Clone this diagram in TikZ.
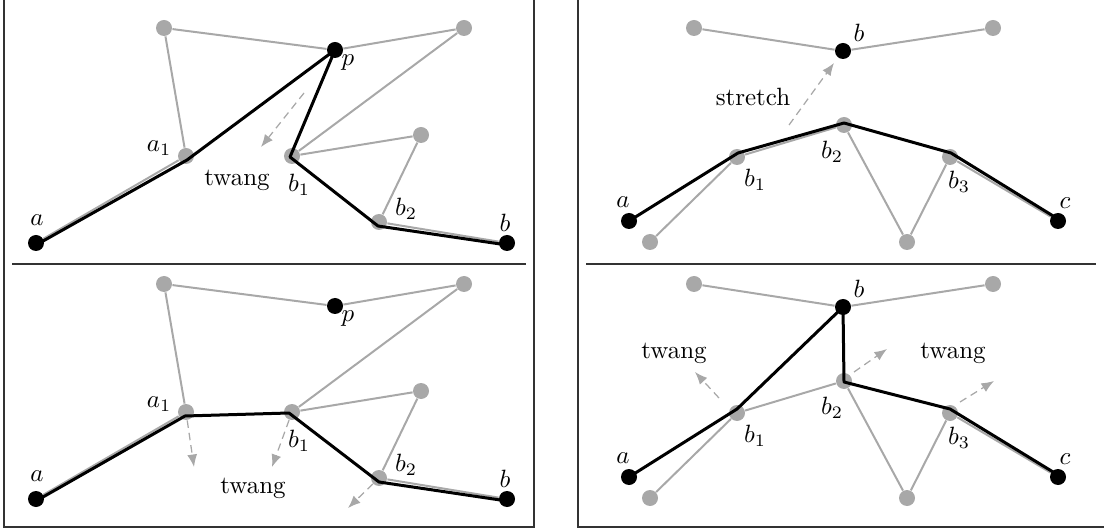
\documentclass[tikz,border=0pt]{standalone}
\usepackage{xcolor}
\usepackage{tikz}
\usetikzlibrary{arrows.meta}
\definecolor{dotgray}{HTML}{A8A8A8}
\definecolor{framegray}{HTML}{333333}
\tikzset{
  gdot/.style={circle, fill=dotgray, inner sep=0pt, minimum size=6.4pt},
  bdot/.style={circle, fill=black, inner sep=0pt, minimum size=6.4pt},
  gedge/.style={draw=dotgray, line width=0.8pt},
  taut/.style={draw=black, line width=1.2pt, line join=round},
  pull/.style={draw=dotgray, line width=0.5pt, dash pattern=on 3pt off 2pt,
               -{Latex[length=5pt, width=4pt]}},
  lbl/.style={inner sep=0pt},
}
% gray graph with the three pins, left side
\newcommand\leftgraph{%
  \node[bdot] (a) at (36,243) {};
  \node[gdot] (a1) at (186,156) {};
  \node[gdot] (nw) at (164,28) {};
  \node[bdot] (p) at (335,50) {};
  \node[gdot] (ne) at (464,28) {};
  \node[gdot] (b1) at (292,156) {};
  \node[gdot] (e) at (421,135) {};
  \node[gdot] (b2) at (379,222) {};
  \node[bdot] (b) at (507,243) {};
  \draw[gedge] (a) -- (a1) -- (nw) -- (p) -- (ne) -- (b1) -- (e) -- (b2) -- (b);
  \node[lbl] (la) at (37,220) {$a$};
  \node[lbl] (la1) at (159,148) {$a_1$};
  \node[lbl] (lb1) at (299,185) {$b_1$};
  \node[lbl] (lp) at (348,63) {$p$};
  \node[lbl] (lb2) at (406,209) {$b_2$};
  \node[lbl] (lb) at (505,223) {$b$};
}
% gray graph, right side
\newcommand\rightgraph{%
  \node[bdot] (a) at (629,221) {};
  \node[gdot] (nw) at (694,28) {};
  \node[bdot] (b) at (843,51) {};
  \node[gdot] (ne) at (993,28) {};
  \node[gdot] (b1) at (737,157) {};
  \node[gdot] (b2) at (844,125) {};
  \node[gdot] (b3) at (950,157) {};
  \node[bdot] (c) at (1058,221) {};
  \node[gdot] (sw) at (650,242) {};
  \node[gdot] (s) at (907,242) {};
  \draw[gedge] (nw) -- (b) -- (ne);
  \draw[gedge] (sw) -- (b1) -- (b2) -- (s) -- (b3) -- (c);
  \node[lbl] (lb) at (859,33) {$b$};
  \node[lbl] (lb1) at (755,180) {$b_1$};
  \node[lbl] (lb2) at (832,152) {$b_2$};
  \node[lbl] (lb3) at (959,182) {$b_3$};
  \node[lbl] (la) at (623,202) {$a$};
  \node[lbl] (lc) at (1065,203) {$c$};
}

\begin{document}
\begin{tikzpicture}[x=0.4pt, y=-0.4pt]
  \useasboundingbox (0,0) rectangle (1104,531);

  % frames
  \draw[framegray, line width=0.5pt] (4,0) -- (4,527) -- (534,527) -- (534,0);
  \draw[framegray, line width=0.5pt] (578,0) -- (578,527) -- (1104,527);
  \draw[framegray, line width=0.5pt] (12,264) -- (526,264);
  \draw[framegray, line width=0.5pt] (586,264) -- (1096,264);

  % left, top
  \begin{scope}[name prefix=lt-]
    \leftgraph
    \draw[taut] ([shift={(0,2)}]a.center) -- ([shift={(1,4)}]a1.center) -- (p.center)
      -- ([shift={(-2,1)}]b1.center) -- ([shift={(-1,4)}]b2.center) -- ([shift={(0,2)}]b.center);
    \coordinate (t1) at (304,93);
    \coordinate (t2) at (261,147);
    \draw[pull] (t1) -- (t2);
    \node (tw) at (237,180) {twang};
  \end{scope}

  % left, bottom
  \begin{scope}[shift={(0,256)}, name prefix=lb-]
    \leftgraph
    \draw[taut] ([shift={(0,2)}]a.center) -- ([shift={(-1,4)}]a1.center)
      -- ([shift={(-3,1)}]b1.center) -- ([shift={(0,4)}]b2.center) -- ([shift={(0,2)}]b.center);
    \coordinate (t1) at (194,211);
    \coordinate (t2) at (272,211);
    \coordinate (t3) at (348,252);
    \draw[pull] (a1) -- (t1);
    \draw[pull] (b1) -- (t2);
    \draw[pull] (b2) -- (t3);
    \node (tw) at (253,232) {twang};
  \end{scope}

  % right, top
  \begin{scope}[name prefix=rt-]
    \rightgraph
    \draw[taut] (a.center) -- ([shift={(1,-4)}]b1.center) -- ([shift={(0,-2)}]b2.center)
      -- ([shift={(1,-4)}]b3.center) -- ([shift={(0,-2)}]c.center);
    \coordinate (s1) at (789,125);
    \coordinate (s2) at (834,63);
    \draw[pull] (s1) -- (s2);
    \node (st) at (753,97) {stretch};
  \end{scope}

  % right, bottom
  \begin{scope}[shift={(0,256)}, name prefix=rb-]
    \rightgraph
    \draw[taut] (a.center) -- ([shift={(0,-4)}]b1.center) -- (b.center)
      -- ([shift={(0,1)}]b2.center) -- ([shift={(0,-4)}]b3.center) -- ([shift={(0,-2)}]c.center);
    \coordinate (t1) at (719,142);
    \coordinate (t2) at (695,116);
    \coordinate (t3) at (854,116);
    \coordinate (t4) at (887,93);
    \coordinate (t5) at (960,146);
    \coordinate (t6) at (994,125);
    \draw[pull] (t1) -- (t2);
    \draw[pull] (t3) -- (t4);
    \draw[pull] (t5) -- (t6);
    \node (twl) at (674,97) {twang};
    \node (twr) at (953,97) {twang};
  \end{scope}
\end{tikzpicture}
\end{document}
